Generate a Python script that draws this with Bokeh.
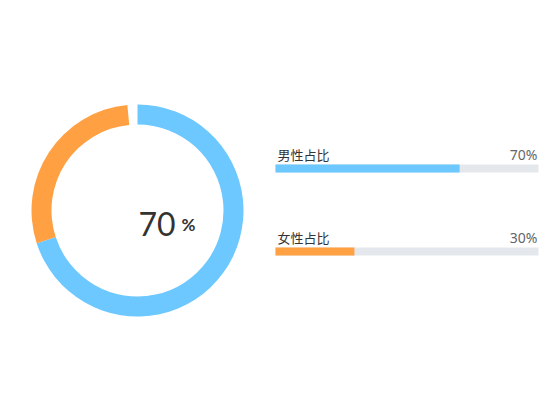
import math
from bokeh.plotting import figure
from bokeh.models import Range1d
from bokeh.core.properties import value
from bokeh.embed import file_html
from bokeh.resources import INLINE

# data
labels = ["男性占比", "女性占比"]
shares = [70, 30]
colors = ["#6CC8FF", "#FFA043"]
share_text = ["70%", "30%"]
center_value = "70"

W, H = 542, 412
p = figure(width=W, height=H, output_backend="svg", toolbar_location=None,
           x_range=Range1d(0, W), y_range=Range1d(0, H), min_border=0)
p.axis.visible = False
p.grid.visible = False
p.outline_line_color = None
p.background_fill_color = "white"

# donut, clockwise from 12 o'clock
cx, cy = 137, H - 210
gap = 5.5
start = 90.0
for i, s in enumerate(shares):
    sweep = 360.0 * s / 100.0
    end = start - sweep
    if i == len(shares) - 1:
        end += gap
    p.annular_wedge(x=cx, y=cy, inner_radius=86, outer_radius=106,
                    start_angle=math.radians(start), end_angle=math.radians(end),
                    direction="clock", color=colors[i], line_color=None)
    start = start - sweep

p.text(x=[cx + 1], y=[cy - 13], text=[center_value], text_font=value("Lato"),
       text_font_size="32px", text_color="#333333", text_align="left",
       text_baseline="middle")
p.text(x=[cx + 44], y=[cy - 14], text=["%"], text_font=value("Lato"),
       text_font_size="17px", text_font_style="bold", text_color="#333333",
       text_align="left", text_baseline="middle")

# progress bars
bx0, bx1 = 275, 538
bar_y = [H - 168, H - 251]
p.hbar(y=bar_y, left=bx0, right=bx1, height=8, color="#E4E7EC", line_color=None)
p.hbar(y=bar_y, left=bx0, right=[bx0 + (bx1 - bx0) * s / 100.0 for s in shares],
       height=8, color=colors, line_color=None)
label_y = [y + 14 for y in bar_y]
p.text(x=[bx0 + 2] * 2, y=label_y, text=labels, text_font=value("Noto Sans CJK SC"),
       text_font_size="13px", text_color="#333333", text_align="left",
       text_baseline="middle")
p.text(x=[bx1 - 1] * 2, y=label_y, text=share_text, text_font=value("Noto Sans"),
       text_font_size="14px", text_color="#666666", text_align="right",
       text_baseline="middle")

open("out.html", "w").write(file_html(p, INLINE))
